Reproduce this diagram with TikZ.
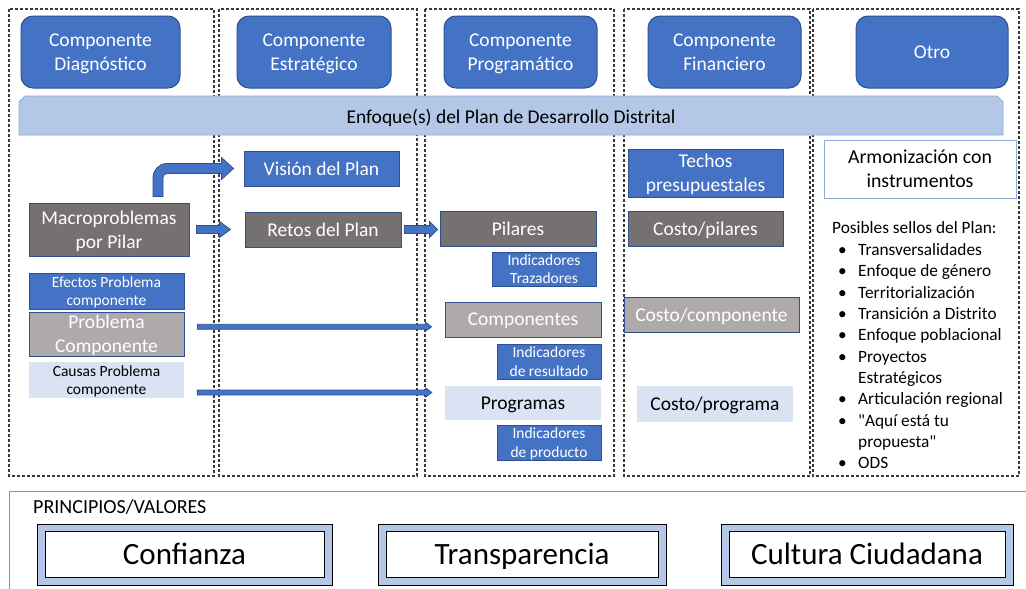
\documentclass[tikz,border=0pt]{standalone}
\usepackage{fontspec}
\setmainfont{Carlito}
\usetikzlibrary{calc}
\definecolor{cblue}{HTML}{4472C4}
\definecolor{cborder}{HTML}{2F528F}
\definecolor{cdgray}{HTML}{767171}
\definecolor{clgray}{HTML}{AEAAAA}
\definecolor{clblue}{HTML}{DAE3F3}
\definecolor{cband}{HTML}{B4C7E7}
\definecolor{cbandline}{HTML}{8FAADC}
\definecolor{cdash}{HTML}{3A3A3A}
\definecolor{cframe}{HTML}{8497B0}
\font\qfont="Carlito" at 17.3pt
\newcommand\sq{{\qfont"}}
\newcommand\fs[2]{\fontsize{#1}{#2}\selectfont}
\newcommand\harrow[5]{% start, tip, shaft half, head half, head length
  \path[blockarrow] let \p1=(#1), \p2=(#2) in
    (\x1,\y2+#3) -- (\x2-#5,\y2+#3) -- (\x2-#5,\y2+#4) -- (\x2,\y2)
    -- (\x2-#5,\y2-#4) -- (\x2-#5,\y2-#3) -- (\x1,\y2-#3) -- cycle;}
\begin{document}
\begin{tikzpicture}[x=1pt,y=-1pt,
  sz/.style 2 args={minimum width=#1pt, minimum height=#2pt},
  base/.style={inner sep=0pt, align=center, font=\fs{19.5}{24}, text depth=0pt},
  hdr/.style={base, rounded corners=12pt, fill=cblue, draw=cborder, line width=1pt, text=white},
  bluebox/.style={base, fill=cblue, draw=cborder, line width=1pt, text=white},
  graybox/.style={base, fill=cdgray, draw=cborder, line width=1pt, text=white},
  lgraybox/.style={base, fill=clgray, draw=cborder, line width=1pt, text=white},
  lbluebox/.style={base, fill=clblue, draw=none, text=black},
  small/.style={font=\fs{15.5}{18.3}},
  colbox/.style={draw=cdash, line width=1.1pt, dash pattern=on 3pt off 2pt},
  blockarrow/.style={fill=cblue, draw=cborder, line width=0.8pt},
  listtxt/.style={anchor=base west, inner sep=0pt, font=\fs{17.3}{21}},
  valout/.style={fill=cband, draw=black, line width=1pt, inner sep=0pt},
  valin/.style={fill=white, draw=black, line width=1pt, inner sep=0pt, font=\fs{31}{36}, text depth=0pt}
]
\useasboundingbox (0,0) rectangle (1026,589);
\fill[white] (0,0) rectangle (1026,589);

% column frames
\draw[colbox] (9,9) rectangle (214,476);
\draw[colbox] (219,9) rectangle (417,476);
\draw[colbox] (425,9) rectangle (614,476);
\draw[colbox] (624,9) rectangle (810,476);
\draw[colbox] (813,9) rectangle (1019,476);

% headers
\node[hdr, sz={159}{72}] (h1) at (100.5,52) {Componente\\Diagnóstico};
\node[hdr, sz={154}{72}] (h2) at (314,52) {Componente\\Estratégico};
\node[hdr, sz={153}{72}] (h3) at (520.5,52) {Componente\\Programático};
\node[hdr, sz={153}{72}] (h4) at (724.5,52) {Componente\\Financiero};
\node[hdr, sz={152}{72}] (h5) at (932,52) {Otro};

% banner
\fill[cband, draw=cbandline, line width=0.8pt] (19,135) -- (19,102) -- (25,96) -- (997,96) -- (1003,102) -- (1003,135) -- cycle;
\node[base, text=black] (band) at (511,116) {Enfoque(s) del Plan de Desarrollo Distrital};

% column 1
\node[graybox, sz={160}{53}] (macro) at (109,229.5) {Macroproblemas\\por Pilar};
\node[bluebox, small, sz={155}{36}] (efectos) at (106.5,291) {Efectos Problema\\componente};
\node[lgraybox, sz={155}{44}] (problema) at (106.5,334) {Problema\\Componente};
\node[lbluebox, small, sz={155}{36}] (causas) at (106.5,380) {Causas Problema\\componente};

% column 2
\node[bluebox, sz={155}{35}] (vision) at (321.5,168.5) {Visión del Plan};
\node[graybox, sz={156}{35}] (retos) at (323,229.5) {Retos del Plan};

% column 3
\node[graybox, sz={156}{35}] (pilares) at (518,228.5) {Pilares};
\node[bluebox, small, sz={104}{34}] (indtraz) at (544,269) {Indicadores\\Trazadores};
\node[lgraybox, sz={156}{35}] (comp) at (523,319.5) {Componentes};
\node[bluebox, small, sz={104}{35}] (indres) at (549,361.5) {Indicadores\\de resultado};
\node[lbluebox, sz={156}{34}] (prog) at (523,403) {Programas};
\node[bluebox, small, sz={104}{35}] (indprod) at (549,442.5) {Indicadores\\de producto};

% column 4
\node[bluebox, sz={155}{48}] (techos) at (705.5,173) {Techos\\presupuestales};
\node[graybox, sz={155}{35}] (cpil) at (705.5,228.5) {Costo/pilares};
\node[lgraybox, sz={175}{35}] (ccomp) at (711.5,314.5) {Costo/componente};
\node[lbluebox, sz={156}{36}] (cprog) at (715,404) {Costo/programa};

% column 5
\node[base, fill=white, draw=cbandline, line width=1pt, sz={192}{58}, font=\fs{19.8}{24}] (armon) at (920,169) {Armonización con\\instrumentos};
\node[listtxt] (sh) at (832,233.6) {Posibles sellos del Plan:};
\foreach \b/\t [count=\i from 0] in {1/Transversalidades, 1/Enfoque de género, 1/Territorialización, 1/Transición a Distrito, 1/Enfoque poblacional, 1/Proyectos, 0/Estratégicos, 1/Articulación regional, 1/\sq Aquí está tu, 0/propuesta\sq, 1/ODS}{
  \node[listtxt] (li\i) at (858,{255.6+21.3*\i}) {\t};
  \ifnum\b=1 \node[listtxt] (bu\i) at (838,{255.6+21.3*\i}) {\textbullet};\fi
}

% arrows
\coordinate (a1s) at ($(macro.east)+(7,0)$);
\coordinate (a1e) at ($(retos.west)+(-14,0)$);
\harrow{a1s}{a1e}{4pt}{8pt}{11pt}
\coordinate (a2s) at ($(retos.east)+(3,0)$);
\coordinate (a2e) at ($(pilares.west)+(-2,1)$);
\harrow{a2s}{a2e}{4pt}{8pt}{8pt}
\coordinate (a3s) at ($(problema.east)+(13,0)$);
\coordinate (a3e) at ($(comp.west)+(-13,7.3)$);
\harrow{a3s}{a3e}{2.5pt}{4.5pt}{6pt}
\coordinate (a4s) at ($(causas.east)+(13,0)$);
\coordinate (a4e) at ($(prog.west)+(-13,-10.5)$);
\harrow{a4s}{a4e}{2.5pt}{4.5pt}{6pt}
% bent arrow
\coordinate (b0) at ($(macro.north)+(49,-6)$);
\coordinate (b1) at ($(vision.west)+(-10,0)$);
\path[blockarrow] let \p1=(b0), \p2=(b1) in
  (\x1-5pt,\y1) -- (\x1-5pt,\y2+5pt-14pt) arc[start angle=180, end angle=90, radius=14pt]
  -- (\x2-12pt,\y2+5pt) -- (\x2-12pt,\y2+11pt) -- (\x2,\y2) -- (\x2-12pt,\y2-11pt) -- (\x2-12pt,\y2-5pt)
  -- (\x1+9pt,\y2-5pt) arc[start angle=90, end angle=180, radius=4pt]
  -- (\x1+5pt,\y1) -- cycle;

% bottom
\draw[cframe, line width=1pt] (9,600) -- (9,491) -- (1040,491);
\node[anchor=base west, inner sep=0pt, font=\fs{20}{23}] (pv) at (33,513) {PRINCIPIOS/VALORES};
\node[valout, sz={295}{61}] (vo1) at (184.5,554.5) {};
\node[valin, sz={279}{46}] (vi1) at (184.5,554) {Confianza};
\node[valout, sz={288}{61}] (vo2) at (522,554.5) {};
\node[valin, sz={272}{46}] (vi2) at (522,554) {Transparencia};
\node[valout, sz={292}{61}] (vo3) at (867,554.5) {};
\node[valin, sz={276}{46}] (vi3) at (867,554) {Cultura Ciudadana};
\end{tikzpicture}
\end{document}
